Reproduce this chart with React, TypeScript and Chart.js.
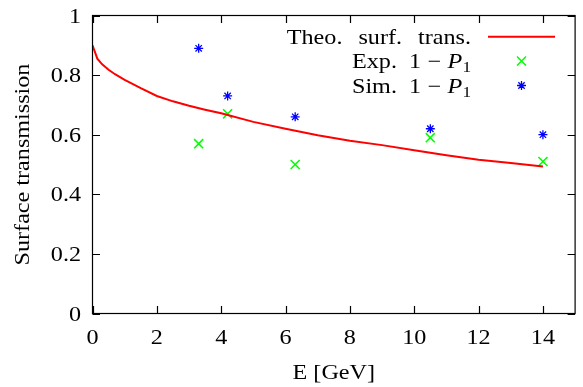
import { useEffect, useRef } from 'react';
import { Chart, registerables } from 'chart.js';

Chart.register(...registerables);

// ---- data ----
const theoE = [0, 0.15, 0.3, 0.5, 0.7, 1, 1.5, 2, 2.5, 3, 3.5, 4, 5, 6, 7, 8, 9, 10, 11, 12, 13, 14];
const theoT = [0.9, 0.855, 0.836, 0.818, 0.803, 0.784, 0.756, 0.73, 0.712, 0.697, 0.684, 0.672, 0.643, 0.62, 0.598, 0.58, 0.565, 0.548, 0.531, 0.516, 0.505, 0.493];
const measE = [3.3, 4.2, 6.3, 10.5, 14.0];
const expT = [0.57, 0.67, 0.5, 0.59, 0.51];
const simT = [0.89, 0.73, 0.66, 0.62, 0.6];
const xTicks = [0, 2, 4, 6, 8, 10, 12, 14];
const yTicks = [0, 0.2, 0.4, 0.6, 0.8, 1];
const xTitle = 'E [GeV]';
const yTitle = 'Surface transmission';
const theoLabel = ['Theo.', 'surf.', 'trans.'];
const expLabel = 'Exp.';
const simLabel = 'Sim.';

const RED = '#ff0000';
const GREEN = '#00ff00';
const BLUE = '#0000ff';
const FONT = '"Liberation Serif", "Times New Roman", serif';
const SX = 1.15;
const FS = 21;

type Piece = { t: string; size?: number; style?: string; dy?: number; gap?: number };

function measure(ctx: CanvasRenderingContext2D, p: Piece) {
  ctx.font = `${p.style || ''} ${p.size || FS}px ${FONT}`;
  return ctx.measureText(p.t).width * SX;
}

function drawPieces(ctx: CanvasRenderingContext2D, pieces: Piece[], x: number, y: number, align: 'left' | 'right' | 'center') {
  let total = 0;
  pieces.forEach((p) => {
    total += measure(ctx, p) + (p.gap || 0);
  });
  let cx = align === 'left' ? x : align === 'right' ? x - total : x - total / 2;
  pieces.forEach((p) => {
    const w = measure(ctx, p);
    ctx.save();
    ctx.font = `${p.style || ''} ${p.size || FS}px ${FONT}`;
    ctx.translate(cx, y + (p.dy || 0));
    ctx.scale(SX, 1);
    ctx.textAlign = 'left';
    ctx.textBaseline = 'alphabetic';
    ctx.fillStyle = '#000';
    ctx.fillText(p.t, 0, 0);
    ctx.restore();
    cx += w + (p.gap || 0);
  });
}

function mathPart(prefix: string): Piece[] {
  return [
    { t: prefix, gap: 12 },
    { t: '1', gap: 6.5 },
    { t: '\u2212', gap: 6.5 },
    { t: 'P', style: 'italic', gap: 0 },
    { t: '1', size: 15, dy: 4 },
  ];
}

const framePlugin = {
  id: 'gnuplotFrame',
  afterDraw(chart: any) {
    const ctx: CanvasRenderingContext2D = chart.ctx;
    const { left, right, top, bottom } = chart.chartArea;
    const xs = chart.scales.x;
    const ys = chart.scales.y;
    ctx.save();
    ctx.strokeStyle = '#000';
    ctx.lineWidth = 1.2;
    ctx.strokeRect(left, top, right - left, bottom - top);
    const TL = 7.5;
    ctx.beginPath();
    xs.ticks.forEach((t: any) => {
      const px = Math.round(xs.getPixelForValue(t.value)) + 0.5;
      ctx.moveTo(px, bottom);
      ctx.lineTo(px, bottom - TL);
      ctx.moveTo(px, top);
      ctx.lineTo(px, top + TL);
    });
    ys.ticks.forEach((t: any) => {
      const py = Math.round(ys.getPixelForValue(t.value)) + 0.5;
      ctx.moveTo(left, py);
      ctx.lineTo(left + TL, py);
      ctx.moveTo(right, py);
      ctx.lineTo(right - TL, py);
    });
    ctx.stroke();

    // tick labels
    xs.ticks.forEach((t: any) => {
      const px = xs.getPixelForValue(t.value);
      drawPieces(ctx, [{ t: String(Number(t.value.toFixed(2))) }], px, 343.5, 'center');
    });
    ys.ticks.forEach((t: any) => {
      const py = ys.getPixelForValue(t.value);
      drawPieces(ctx, [{ t: String(Number(t.value.toFixed(2))) }], 81, py + 7, 'right');
    });

    // axis titles
    drawPieces(ctx, [{ t: xTitle }], (left + right) / 2, 379, 'center');
    ctx.save();
    ctx.translate(29, (top + bottom) / 2);
    ctx.rotate(-Math.PI / 2);
    drawPieces(ctx, [{ t: yTitle }], 0, 0, 'center');
    ctx.restore();

    // legend
    const textRight = 471;
    const rows = [36.7, 61, 85.5];
    drawPieces(ctx, theoLabel.map((t, i) => ({ t, gap: i < theoLabel.length - 1 ? 16 : 0 })), textRight, rows[0] + 7, 'right');
    drawPieces(ctx, mathPart(expLabel), textRight, rows[1] + 7, 'right');
    drawPieces(ctx, mathPart(simLabel), textRight, rows[2] + 7, 'right');

    ctx.strokeStyle = RED;
    ctx.lineWidth = 2;
    ctx.beginPath();
    ctx.moveTo(488, rows[0]);
    ctx.lineTo(555, rows[0]);
    ctx.stroke();

    const mx = 521.5;
    const h = 4.5;
    ctx.lineWidth = 1.5;
    ctx.strokeStyle = GREEN;
    ctx.beginPath();
    ctx.moveTo(mx - h, rows[1] - h);
    ctx.lineTo(mx + h, rows[1] + h);
    ctx.moveTo(mx - h, rows[1] + h);
    ctx.lineTo(mx + h, rows[1] - h);
    ctx.stroke();

    const d = h * Math.SQRT1_2;
    ctx.lineWidth = 1.3;
    ctx.strokeStyle = BLUE;
    ctx.beginPath();
    ctx.moveTo(mx - h, rows[2]);
    ctx.lineTo(mx + h, rows[2]);
    ctx.moveTo(mx, rows[2] - h);
    ctx.lineTo(mx, rows[2] + h);
    ctx.moveTo(mx - d, rows[2] - d);
    ctx.lineTo(mx + d, rows[2] + d);
    ctx.moveTo(mx - d, rows[2] + d);
    ctx.lineTo(mx + d, rows[2] - d);
    ctx.stroke();
    ctx.restore();
  },
};

export default function App() {
  const ref = useRef<HTMLCanvasElement | null>(null);
  useEffect(() => {
    if (!ref.current) return;
    const chart = new Chart(ref.current, {
      type: 'scatter',
      data: {
        datasets: [
          {
            label: 'Theo. surf. trans.',
            data: theoE.map((x, i) => ({ x, y: theoT[i] })),
            showLine: true,
            borderColor: RED,
            borderWidth: 2,
            pointRadius: 0,
            fill: false,
            tension: 0,
          },
          {
            label: 'Exp. 1 − P1',
            data: measE.map((x, i) => ({ x, y: expT[i] })),
            pointStyle: 'crossRot',
            pointRadius: 6.4,
            pointBorderColor: GREEN,
            borderColor: GREEN,
            pointBorderWidth: 1.5,
            backgroundColor: 'transparent',
          },
          {
            label: 'Sim. 1 − P1',
            data: measE.map((x, i) => ({ x, y: simT[i] })),
            pointStyle: 'star',
            pointRadius: 4.5,
            pointBorderColor: BLUE,
            borderColor: BLUE,
            pointBorderWidth: 1.3,
            backgroundColor: 'transparent',
          },
        ],
      },
      options: {
        animation: false,
        responsive: false,
        devicePixelRatio: 1,
        layout: { padding: { top: 15.5, right: 0.5, left: 0, bottom: 0 } },
        plugins: { legend: { display: false }, tooltip: { enabled: false } },
        scales: {
          x: {
            type: 'linear',
            min: 0,
            max: 15,
            grid: { display: false },
            border: { display: false },
            ticks: { display: false, stepSize: 2, includeBounds: false },
            afterBuildTicks: (s: any) => {
              s.ticks = xTicks.map((v) => ({ value: v }));
            },
            afterFit: (s: any) => {
              s.height = 387 - 313.5;
            },
          },
          y: {
            type: 'linear',
            min: 0,
            max: 1,
            grid: { display: false },
            border: { display: false },
            ticks: { display: false, stepSize: 0.2 },
            afterBuildTicks: (s: any) => {
              s.ticks = yTicks.map((v) => ({ value: v }));
            },
            afterFit: (s: any) => {
              s.width = 92.5;
            },
          },
        },
      },
      plugins: [framePlugin],
    });
    return () => chart.destroy();
  }, []);
  return (
    <div style={{ position: 'fixed', left: 0, top: 0, width: 583, height: 387, background: '#fff' }}>
      <canvas ref={ref} width={583} height={387} style={{ display: 'block' }} />
    </div>
  );
}
